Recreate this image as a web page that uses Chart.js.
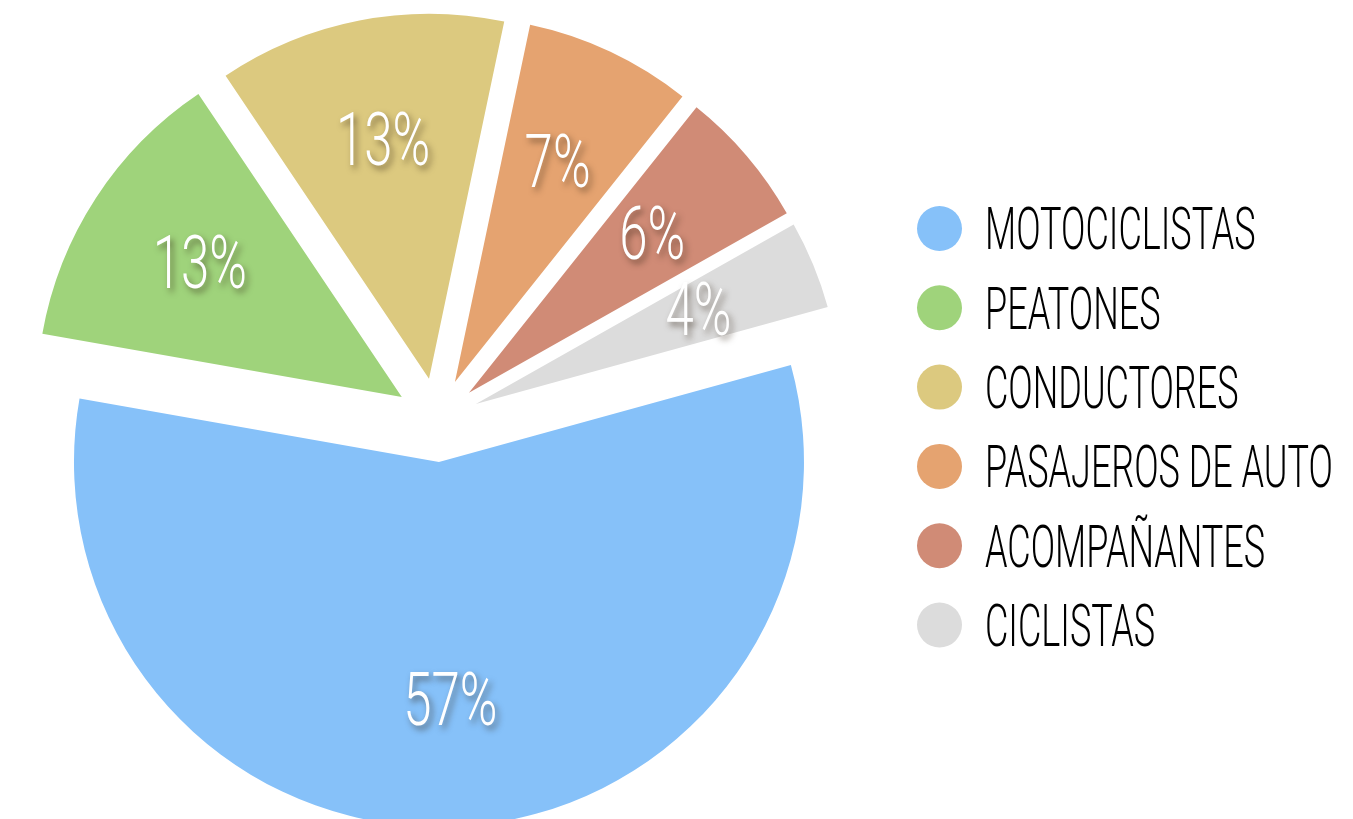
<!DOCTYPE html>
<html>
<head>
<meta charset="utf-8">
<title>Víctimas por tipo de usuario</title>
<script src="https://cdn.jsdelivr.net/npm/chart.js@4.4.1/dist/chart.umd.min.js"></script>
<style>
  body { margin: 0; background: #fff; overflow: hidden; }
  #wrap { width: 1353px; height: 819px; }
</style>
</head>
<body>
<div id="wrap"><canvas id="pie" width="1353" height="819"></canvas></div>

<script>
const categories = ['MOTOCICLISTAS', 'PEATONES', 'CONDUCTORES', 'PASAJEROS DE AUTO', 'ACOMPAÑANTES', 'CICLISTAS'];
// shares, labels show them rounded
const shares = [57.0, 12.8, 12.7, 7.4, 6.1, 3.9];
const sliceColors = ['#86c1f9', '#9fd37b', '#dcc97f', '#e5a370', '#d08b76', '#dcdcdc'];

const PIE_RADIUS = 365;
const SLICE_OFFSET = 168;   // v4 moves a slice by offset/4, so this is ~42px
const FONT = 'Roboto, "Liberation Sans", sans-serif';

// v4 also makes an offset slice longer by (offset/4)*(1 - sin(circumference))
// and trims its angle a little; undo both so the slices look like the original
const evenRadius = {
  id: 'evenRadius',
  beforeDatasetDraw(chart, args) {
    args.meta.data.forEach(function (arc) {
      arc._keep = [arc.outerRadius, arc.startAngle, arc.endAngle];
      var fix = 1 - Math.sin(Math.min(Math.PI, arc.circumference));
      var grow = SLICE_OFFSET / 4 * fix;
      var trim = grow / (2 * Math.PI * PIE_RADIUS);
      arc.outerRadius = PIE_RADIUS - grow;
      arc.startAngle -= trim;
      arc.endAngle += trim;
    });
  },
  afterDatasetDraw(chart, args) {
    args.meta.data.forEach(function (arc) {
      if (!arc._keep) return;
      arc.outerRadius = arc._keep[0];
      arc.startAngle = arc._keep[1];
      arc.endAngle = arc._keep[2];
      arc._keep = null;
    });
  }
};

// white percent labels with a soft shadow, condensed
const pctLabels = {
  id: 'pctLabels',
  afterDatasetsDraw(chart) {
    var ctx = chart.ctx;
    var meta = chart.getDatasetMeta(0);
    var size = 75;
    meta.data.forEach(function (arc, i) {
      var mid = (arc.startAngle + arc.endAngle) / 2;
      var r = SLICE_OFFSET / 4 + 0.66 * PIE_RADIUS;
      var x = arc.x + Math.cos(mid) * r;
      var y = arc.y + Math.sin(mid) * r;
      ctx.save();
      ctx.translate(x, y + size * 0.3);
      ctx.scale(0.68, 1);
      ctx.font = '300 ' + size + 'px ' + FONT;
      ctx.textAlign = 'center';
      ctx.textBaseline = 'alphabetic';
      ctx.shadowColor = 'rgba(50, 35, 20, 0.55)';
      ctx.shadowBlur = 6;
      ctx.shadowOffsetX = 3;
      ctx.shadowOffsetY = 4;
      ctx.fillStyle = '#ffffff';
      ctx.fillText(Math.round(chart.data.datasets[0].data[i]) + '%', 0, 0);
      ctx.restore();
    });
  }
};

// legend on the right: big dots + tall narrow caps
const sideLegend = {
  id: 'sideLegend',
  afterDraw(chart) {
    var ctx = chart.ctx;
    var labels = chart.data.labels;
    var colors = chart.data.datasets[0].backgroundColor;
    var size = 59;
    labels.forEach(function (txt, i) {
      var cy = 228.5 + i * 79.3;
      ctx.save();
      ctx.fillStyle = colors[i];
      ctx.beginPath();
      ctx.arc(939.5, cy, 22.5, 0, Math.PI * 2);
      ctx.fill();
      ctx.translate(985, cy + size * 0.355);
      ctx.scale(0.61, 1);
      ctx.font = '300 ' + size + 'px ' + FONT;
      ctx.textAlign = 'left';
      ctx.textBaseline = 'alphabetic';
      ctx.fillStyle = '#000000';
      ctx.fillText(txt, 0, 0);
      ctx.restore();
    });
  }
};

var ctx = document.getElementById('pie').getContext('2d');
window.pie = new Chart(ctx, {
  type: 'pie',
  data: {
    labels: categories,
    datasets: [{
      data: shares,
      backgroundColor: sliceColors,
      borderWidth: 0,
      offset: SLICE_OFFSET,
      hoverOffset: 0
    }]
  },
  options: {
    responsive: false,
    devicePixelRatio: 1,
    animation: false,
    radius: PIE_RADIUS,
    rotation: 74.6,
    layout: { padding: { left: 0, top: 21, right: 479, bottom: 0 } },
    events: [],
    plugins: {
      legend: { display: false },
      tooltip: { enabled: false }
    }
  },
  plugins: [evenRadius, pctLabels, sideLegend]
});
</script>
</body>
</html>
